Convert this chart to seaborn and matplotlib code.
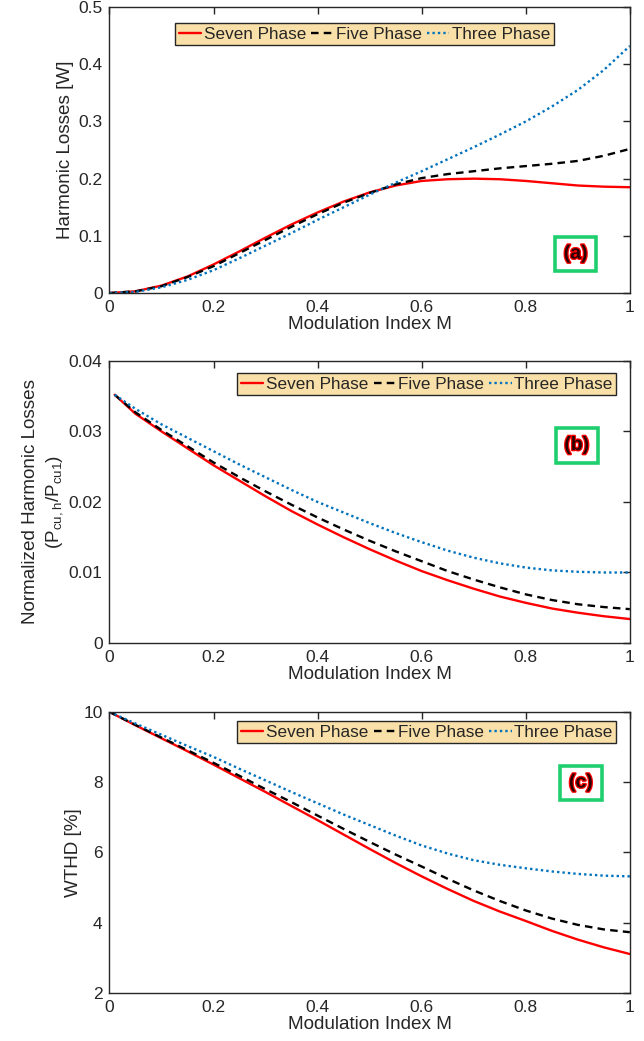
import numpy as np
import pandas as pd
import matplotlib
matplotlib.use("Agg")
import matplotlib.pyplot as plt
import matplotlib.patheffects as pe
import seaborn as sns

# ---------------- data ----------------
m_a = [0.0, 0.05, 0.1, 0.15, 0.2, 0.25, 0.3, 0.35, 0.4, 0.45, 0.5,
       0.55, 0.6, 0.65, 0.7, 0.75, 0.8, 0.85, 0.9, 0.95, 1.0]
seven_a = [0.0, 0.003, 0.013, 0.029, 0.050, 0.073, 0.097, 0.120, 0.141, 0.160, 0.176,
           0.188, 0.196, 0.199, 0.200, 0.199, 0.196, 0.192, 0.188, 0.186, 0.185]
five_a = [0.0, 0.003, 0.012, 0.028, 0.047, 0.070, 0.093, 0.116, 0.138, 0.158, 0.175,
          0.190, 0.201, 0.208, 0.213, 0.218, 0.222, 0.226, 0.231, 0.240, 0.252]
three_a = [0.0, 0.002, 0.010, 0.023, 0.040, 0.061, 0.083, 0.105, 0.128, 0.150, 0.172,
           0.193, 0.213, 0.234, 0.255, 0.277, 0.300, 0.326, 0.355, 0.390, 0.432]

m_b = [0.01, 0.05, 0.1, 0.15, 0.2, 0.25, 0.3, 0.35, 0.4, 0.45, 0.5,
       0.55, 0.6, 0.65, 0.7, 0.75, 0.8, 0.85, 0.9, 0.95, 1.0]
seven_b = [0.0352, 0.0325, 0.0300, 0.0276, 0.0252, 0.0230, 0.0208, 0.0187, 0.0168, 0.0150, 0.0133,
           0.0117, 0.0102, 0.0089, 0.0077, 0.0066, 0.0057, 0.0049, 0.0043, 0.0038, 0.0034]
five_b = [0.0352, 0.0327, 0.0302, 0.0279, 0.0256, 0.0235, 0.0215, 0.0196, 0.0178, 0.0161, 0.0145,
          0.0130, 0.0116, 0.0102, 0.0090, 0.0079, 0.0069, 0.0061, 0.0055, 0.0051, 0.0048]
three_b = [0.0352, 0.0332, 0.0310, 0.0291, 0.0272, 0.0253, 0.0235, 0.0217, 0.0200, 0.0185, 0.0170,
           0.0156, 0.0143, 0.0131, 0.0121, 0.0113, 0.0107, 0.0103, 0.0101, 0.0100, 0.0100]

m_c = [0.0, 0.05, 0.1, 0.15, 0.2, 0.25, 0.3, 0.35, 0.4, 0.45, 0.5,
       0.55, 0.6, 0.65, 0.7, 0.75, 0.8, 0.85, 0.9, 0.95, 1.0]
seven_c = [10.0, 9.62, 9.25, 8.88, 8.50, 8.11, 7.72, 7.32, 6.92, 6.51, 6.10,
           5.70, 5.32, 4.96, 4.62, 4.32, 4.05, 3.77, 3.52, 3.30, 3.11]
five_c = [10.0, 9.63, 9.27, 8.91, 8.55, 8.18, 7.80, 7.43, 7.05, 6.67, 6.30,
          5.94, 5.60, 5.25, 4.92, 4.62, 4.35, 4.12, 3.94, 3.81, 3.73]
three_c = [10.0, 9.67, 9.35, 9.03, 8.72, 8.38, 8.05, 7.72, 7.40, 7.08, 6.78,
           6.48, 6.20, 5.97, 5.78, 5.65, 5.55, 5.46, 5.39, 5.34, 5.32]

series_names = ["Seven Phase", "Five Phase", "Three Phase"]
x_ticks = [0, 0.2, 0.4, 0.6, 0.8, 1.0]
x_ticklabels = ["0", "0.2", "0.4", "0.6", "0.8", "1"]
yt_a = [0, 0.1, 0.2, 0.3, 0.4, 0.5]
ytl_a = ["0", "0.1", "0.2", "0.3", "0.4", "0.5"]
yt_b = [0, 0.01, 0.02, 0.03, 0.04]
ytl_b = ["0", "0.01", "0.02", "0.03", "0.04"]
yt_c = [2, 4, 6, 8, 10]
ytl_c = ["2", "4", "6", "8", "10"]
xlabel = "Modulation Index M"
ylabels = ["Harmonic Losses [W]",
           "Normalized Harmonic Losses\n($\\mathregular{P_{cu,h}/P_{cu1}}$)",
           "WTHD [%]"]
panel_tags = ["(a)", "(b)", "(c)"]

# ---------------- style ----------------
sns.set_theme(style="white")
plt.rcParams["font.family"] = ["Liberation Sans", "DejaVu Sans"]
plt.rcParams["mathtext.fontset"] = "custom"
plt.rcParams["mathtext.rm"] = "Liberation Sans"

colors = ["#ff0000", "#000000", "#0072bd"]
styles = ["-", (0, (3.2, 2.2)), (0, (1, 1.3))]
dark = "#262626"

fig = plt.figure(figsize=(6.44, 10.41), dpi=100)
left, width = 0.170, 0.808
axes = [fig.add_axes([left, 0.7185, width, 0.2747]),
        fig.add_axes([left, 0.3823, width, 0.2710]),
        fig.add_axes([left, 0.0461, width, 0.2700])]

panels = [
    (m_a, [seven_a, five_a, three_a], yt_a, ytl_a, (0, 0.5)),
    (m_b, [seven_b, five_b, three_b], yt_b, ytl_b, (0, 0.04)),
    (m_c, [seven_c, five_c, three_c], yt_c, ytl_c, (2, 10)),
]
leg_anchor = [(0.49, 0.945), (0.61, 0.958), (0.61, 0.968)]
tag_pos = [(0.896, 0.136), (0.898, 0.70), (0.906, 0.747)]
ylabelpads = [3.0, 2.5, 0.5]

for i, (ax, (mx, ys, yt, ytl, ylim)) in enumerate(zip(axes, panels)):
    for name, yv, c, ls in zip(series_names, ys, colors, styles):
        df = pd.DataFrame({"M": mx, "v": yv})
        sns.lineplot(data=df, x="M", y="v", ax=ax, color=c, linestyle=ls,
                     linewidth=1.7, label=name)
    ax.set_xlim(0, 1)
    ax.set_ylim(*ylim)
    ax.set_xticks(x_ticks)
    ax.set_xticklabels(x_ticklabels)
    ax.set_yticks(yt)
    ax.set_yticklabels(ytl)
    ax.tick_params(direction="in", top=True, right=True, length=5, width=1,
                   colors=dark, labelsize=12.5, pad=5)
    for s in ax.spines.values():
        s.set_color(dark)
        s.set_linewidth(1.0)
    ax.set_xlabel(xlabel, fontsize=13.6, color=dark, labelpad=1)
    ax.set_ylabel(ylabels[i], fontsize=13.6, color=dark, labelpad=ylabelpads[i],
                  linespacing=1.4)
    leg = ax.legend(loc="upper center", bbox_to_anchor=leg_anchor[i], ncol=3,
                    fontsize=12.3, frameon=True, fancybox=False,
                    handlelength=1.3, handletextpad=0.15, columnspacing=0.3,
                    borderpad=0.22, borderaxespad=0.0)
    fr = leg.get_frame()
    fr.set_facecolor("#f9e0a8")
    fr.set_edgecolor(dark)
    fr.set_linewidth(1.0)
    fr.set_alpha(1.0)
    tx, ty = tag_pos[i]
    ax.text(tx, ty, panel_tags[i], transform=ax.transAxes, ha="center",
            va="center", fontsize=14, fontweight="bold", color="#2a0000",
            path_effects=[pe.withStroke(linewidth=1.8, foreground="#ff0000")],
            bbox=dict(boxstyle="square,pad=0.45", facecolor="white",
                      edgecolor="#1fcf6e", linewidth=2.6))

fig.savefig("out.png", dpi=100)
